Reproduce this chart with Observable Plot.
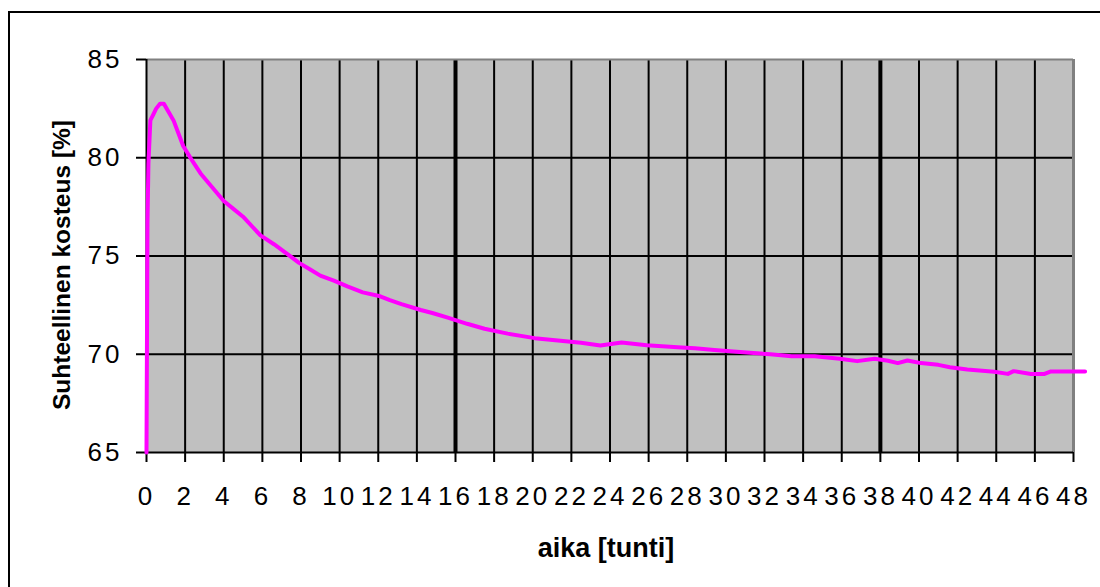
<!DOCTYPE html>
<html>
<head>
<meta charset="utf-8">
<script src="https://cdn.jsdelivr.net/npm/d3@7"></script>
<script src="https://cdn.jsdelivr.net/npm/@observablehq/plot@0.6"></script>
<style>
  html, body { margin: 0; padding: 0; background: #fff; }
  #wrap { position: relative; width: 1100px; height: 587px; overflow: hidden; }
  #frame { position: absolute; left: 8px; top: 11px; width: 1200px; height: 700px;
           border-top: 2px solid #000; border-left: 2px solid #000; box-sizing: border-box; }
  #chart { position: absolute; left: 0; top: 0; }
  .tick-text text { letter-spacing: 3px; }
  .ytitle { position: absolute; left: 62px; top: 265px; width: 0; height: 0; }
  .ytitle span { position: absolute; left: 0; top: 0; transform: translate(-50%, -50%) rotate(-90deg);
            font: bold 24.5px "Liberation Sans", Arial, sans-serif; white-space: nowrap; color: #000; line-height: 1; }
  .xtitle { position: absolute; left: 606px; top: 548px; width: 0; height: 0; }
  .xtitle span { position: absolute; left: 0; top: 0; transform: translate(-50%, -50%);
            font: bold 27px "Liberation Sans", Arial, sans-serif; white-space: nowrap; color: #000; line-height: 1; }
</style>
</head>
<body>
<div id="wrap">
  <div id="frame"></div>
  <div id="chart"></div>
  <div class="ytitle"><span>Suhteellinen kosteus [%]</span></div>
  <div class="xtitle"><span>aika [tunti]</span></div>
</div>
<script>
// time in hours
const hours = [0, 0.05, 0.1, 0.2, 0.35, 0.5, 0.7, 0.9, 1.1, 1.4, 1.9, 2.4, 2.8, 3.4, 4.0, 4.5, 5.0, 5.9, 6.6, 7.3,
  7.9, 8.5, 9.0, 9.7, 10.4, 11.2, 12.1, 12.6, 13.2, 14.2, 14.8, 15.6, 16.6, 17.5, 18.7, 20.1, 21.3, 22.5, 23.5, 24.6,
  25.9, 27.5, 28.4, 29.4, 30.9, 32.3, 33.4, 34.6, 35.9, 36.8, 37.7, 38.4, 38.9, 39.4, 40.1, 41.0, 41.6, 42.5, 43.9,
  44.6, 44.9, 45.8, 46.5, 46.8, 48.6];
// relative humidity, %
const rh = [65, 76.7, 79.7, 81.9, 82.2, 82.5, 82.75, 82.75, 82.4, 81.9, 80.6, 79.8, 79.2, 78.5, 77.8, 77.4, 77.0, 76.05, 75.6, 75.1,
  74.65, 74.3, 74.0, 73.75, 73.45, 73.15, 72.95, 72.75, 72.55, 72.25, 72.1, 71.86, 71.55, 71.3, 71.05, 70.82, 70.7, 70.58, 70.45, 70.6,
  70.46, 70.36, 70.3, 70.22, 70.1, 70.0, 69.9, 69.9, 69.77, 69.65, 69.77, 69.67, 69.55, 69.68, 69.55, 69.46, 69.34, 69.22, 69.11,
  69.0, 69.14, 69.0, 69.0, 69.12, 69.12];
const xTicks = d3.range(0, 49, 2);
const yTicks = [65, 70, 75, 80, 85];
const xGrid = xTicks.filter(t => t > 0 && t < 48);
const yGrid = [70, 75, 80];

const data = hours.map((h, i) => ({h, v: rh[i]}));
const font = '"Liberation Sans", Arial, sans-serif';

const chart = Plot.plot({
  width: 1100,
  height: 587,
  marginLeft: 146,
  marginRight: 27,
  marginTop: 59,
  marginBottom: 135,
  style: {background: "transparent", overflow: "visible"},
  x: {domain: [0, 48]},
  y: {domain: [65, 85]},
  marks: [
    Plot.frame({fill: "#c0c0c0", stroke: null}),
    Plot.ruleX(xGrid, {stroke: "#000", strokeWidth: d => (d === 16 || d === 38) ? 4 : 2}),
    Plot.ruleY(yGrid, {stroke: "#000", strokeWidth: 2}),
    Plot.ruleY([85], {stroke: "#808080", strokeWidth: 2}),
    Plot.ruleX([48], {stroke: "#808080", strokeWidth: 3}),
    Plot.ruleY([65], {stroke: "#000", strokeWidth: 2}),
    Plot.ruleX([0], {stroke: "#000", strokeWidth: 2}),
    Plot.axisX({ticks: xTicks, tickSize: 10, tickPadding: 24, strokeWidth: 2, stroke: "#000",
      fontSize: 26, fontFamily: font, fill: "#000", label: null, className: "tick-text"}),
    Plot.axisY({ticks: yTicks, tickSize: 10, tickPadding: 14, strokeWidth: 2, stroke: "#000",
      fontSize: 26, fontFamily: font, fill: "#000", label: null, className: "tick-text"}),
    Plot.line(data, {x: "h", y: "v", stroke: "#ff00ff", strokeWidth: 4, clip: false})
  ]
});
document.getElementById("chart").appendChild(chart);
</script>
</body>
</html>
